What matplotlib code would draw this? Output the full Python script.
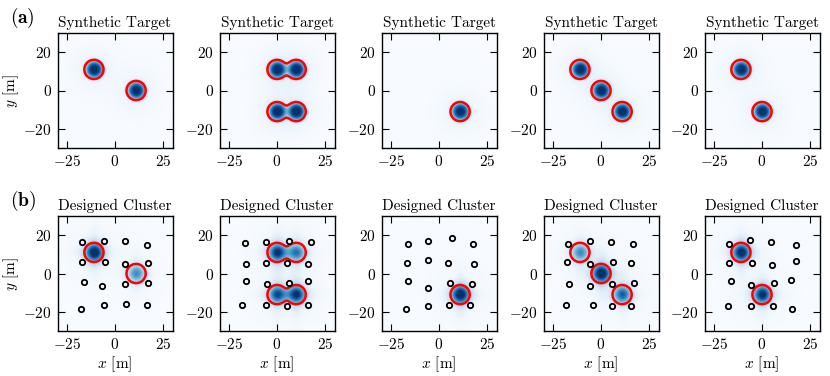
import numpy as np
import matplotlib
matplotlib.use("Agg")
import matplotlib.pyplot as plt

plt.rcParams["font.family"] = ["cmr10", "DejaVu Serif"]
plt.rcParams["mathtext.fontset"] = "cm"
plt.rcParams["axes.formatter.use_mathtext"] = True
plt.rcParams["axes.unicode_minus"] = True

# target centres for each of the five panels (x, y in m)
targets = [
    [(-11, 11), (11, 0)],
    [(0, 11), (10, 11), (0, -11), (10, -11)],
    [(11, -11)],
    [(-11, 11), (0, 0), (11, -11)],
    [(-11, 11), (0, -11)],
]

# relative intensity of each blob in the designed cluster
designed_amp = [
    [1.0, 0.55],
    [0.85, 0.6, 0.75, 0.85],
    [1.0],
    [0.55, 1.0, 0.7],
    [0.95, 0.9],
]

# particle positions of the designed clusters
particles = [
    [(-17.1, 16.3), (-5.9, 17.0), (5.0, 16.7), (16.7, 15.0),
     (-17.2, 5.8), (-5.3, 5.8), (5.0, 4.9), (17.2, 5.6),
     (-16.0, -4.3), (-6.6, -6.7), (5.2, -5.5), (17.1, -5.1),
     (-17.9, -18.3), (-6.0, -16.5), (5.9, -16.0), (16.6, -16.5)],
    [(-16.6, 15.8), (-5.9, 16.2), (6.0, 17.2), (17.9, 16.2),
     (-16.0, 5.1), (-5.7, 5.4), (5.3, 5.3), (16.4, 5.1),
     (-16.2, -3.9), (-5.3, -5.5), (6.0, -4.8), (16.0, -3.9),
     (-18.1, -16.5), (-5.7, -16.5), (5.3, -16.7), (16.2, -16.5)],
    [(-16.2, 15.5), (-5.7, 17.0), (6.6, 18.6), (17.6, 15.6),
     (-16.6, 5.3), (-5.7, 7.0), (4.7, 5.4), (18.1, 5.2),
     (-16.2, -3.7), (-6.0, -7.5), (5.5, -4.9), (17.1, -5.5),
     (-17.4, -18.3), (-5.5, -17.0), (5.0, -16.4), (16.4, -16.5)],
    [(-17.2, 15.3), (-5.5, 17.2), (5.3, 16.3), (16.7, 15.3),
     (-17.6, 5.8), (-5.6, 4.9), (6.0, 6.1), (15.8, 5.4),
     (-16.5, -5.5), (-6.0, -6.3), (5.6, -5.5), (17.2, -4.9),
     (-18.1, -16.2), (-4.4, -16.2), (5.8, -16.7), (15.5, -17.2)],
    [(-17.2, 15.3), (-6.5, 17.4), (4.6, 16.5), (17.7, 15.0),
     (-17.0, 5.4), (-5.3, 5.6), (5.3, 4.2), (17.9, 6.5),
     (-16.3, -4.1), (-6.0, -6.0), (6.2, -4.8), (15.3, -3.2),
     (-17.9, -16.7), (-5.5, -16.7), (5.8, -17.1), (15.5, -18.3)],
]

g = np.linspace(-30, 30, 301)
X, Y = np.meshgrid(g, g)


def gauss(centres, amps, s=2.7):
    f = np.zeros_like(X)
    for (cx, cy), a in zip(centres, amps):
        f += a * np.exp(-((X - cx) ** 2 + (Y - cy) ** 2) / (2 * s ** 2))
    return f


def plateau(centres):
    # flat-topped blob with a faint glow around it
    f = np.zeros_like(X)
    for cx, cy in centres:
        r2 = (X - cx) ** 2 + (Y - cy) ** 2
        f += 0.95 * np.exp(-(r2 / 4.4 ** 2) ** 1.6) + 0.07 * np.exp(-r2 / (2 * 7.0 ** 2))
    return f


def designed(centres, amps):
    f = gauss(centres, amps, s=3.3)
    for (cx, cy), a in zip(centres, amps):
        # faint streaks above/below and to the sides of each blob
        f += 0.09 * a * np.exp(-((X - cx) ** 2) / 8 - ((Y - cy) ** 2) / 140)
        f += 0.05 * a * np.exp(-((X - cx) ** 2) / 140 - ((Y - cy) ** 2) / 8)
        f += 0.04 * a * np.exp(-((X - cx) ** 2 + (Y - cy) ** 2) / (2 * 9.0 ** 2))
    return f


fig = plt.figure(figsize=(8.3, 3.76), dpi=100)
W, H = 830, 376
lefts = [57, 219, 381, 543, 704]
aw, ah = 116, 115
tops = [33, 216]

for row in range(2):
    for i in range(5):
        ax = fig.add_axes([lefts[i] / W, 1 - (tops[row] + ah) / H, aw / W, ah / H])
        outline = gauss(targets[i], [1.0] * len(targets[i]))
        if row == 0:
            img = plateau(targets[i])
            ax.set_title("Synthetic Target", fontsize=11, pad=4)
        else:
            img = designed(targets[i], designed_amp[i])
            ax.set_title("Designed Cluster", fontsize=11, pad=4)
        ax.imshow(img, extent=[-30, 30, -30, 30], origin="lower",
                  cmap="Blues", vmin=0, vmax=1.0, interpolation="bilinear")
        ax.contour(X, Y, outline, levels=[0.18], colors="#ff0000", linewidths=1.8)
        if row == 1:
            p = np.array(particles[i])
            ax.scatter(p[:, 0], p[:, 1], s=15, facecolors="white",
                       edgecolors="black", linewidths=1.3, zorder=3)
            ax.set_xlabel(r"$x$ [m]", fontsize=11, labelpad=2)
        if i == 0:
            ax.set_ylabel(r"$y$ [m]", fontsize=11, labelpad=2)
        ax.set_xlim(-30, 30)
        ax.set_ylim(-30, 30)
        ax.set_xticks([-25, 0, 25])
        ax.set_yticks([-20, 0, 20])
        ax.tick_params(direction="in", top=True, right=True, length=5,
                       width=0.8, labelsize=11, pad=4)
        for sp in ax.spines.values():
            sp.set_linewidth(1.0)

fig.text(10 / W, 1 - 18 / H, r"$\mathbf{(a)}$", fontsize=14, va="center")
fig.text(10 / W, 1 - 201 / H, r"$\mathbf{(b)}$", fontsize=14, va="center")

fig.savefig("out.png", dpi=100)
